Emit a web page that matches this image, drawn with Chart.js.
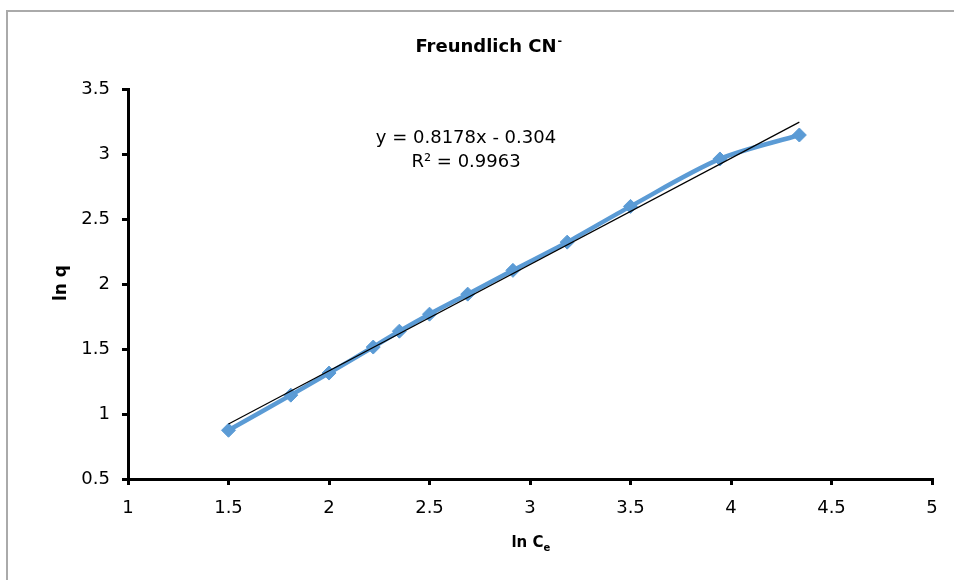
<!DOCTYPE html>
<html>
<head>
<meta charset="utf-8">
<script src="https://cdn.jsdelivr.net/npm/chart.js@4.4.1/dist/chart.umd.min.js"></script>
<style>
    html, body { margin: 0; padding: 0; background: #fff; }
    #box { position: relative; width: 954px; height: 580px; }
</style>
</head>
<body>
<div id="box"><canvas id="grafico-freundlich"></canvas></div>
<script>
// Pontos experimentais (ln Ce, ln q)
const lnCe = [1.50, 1.81, 2.00, 2.22, 2.35, 2.50, 2.69, 2.915, 3.185, 3.50, 3.945, 4.34];
const lnQ = [0.875, 1.145, 1.315, 1.515, 1.637, 1.768, 1.922, 2.105, 2.322, 2.597, 2.962, 3.146];

// Linha de tendência: y = a*x + b
const inclinacao = 0.8178;
const intercepto = -0.304;
const r2 = 0.9963;
const trendX = [1.50, 4.34];

const titulo = 'Freundlich CN';
const fonte = '"DejaVu Sans", sans-serif';

let pontos = [];
for (let i = 0; i < lnCe.length; i++) {
    pontos.push({ x: lnCe[i], y: lnQ[i] });
}
let tendencia = trendX.map(function (x) {
    return { x: x, y: inclinacao * x + intercepto };
});

// Textos desenhados à mão (sobrescrito / subscrito) e moldura
const textos = {
    id: 'textos',
    beforeDraw(chart) {
        const ctx = chart.ctx;
        ctx.save();
        ctx.strokeStyle = '#aaaaaa';
        ctx.lineWidth = 2;
        ctx.beginPath();
        ctx.moveTo(7, 580);
        ctx.lineTo(7, 11);
        ctx.lineTo(954, 11);
        ctx.stroke();
        ctx.restore();
    },
    afterDraw(chart) {
        const ctx = chart.ctx;
        ctx.save();
        ctx.fillStyle = '#000';
        ctx.textBaseline = 'alphabetic';

        // titulo com CN-
        ctx.font = 'bold 18px ' + fonte;
        let w = ctx.measureText(titulo).width;
        let x0 = 486 - w / 2;
        ctx.textAlign = 'left';
        ctx.fillText(titulo, x0, 52);
        ctx.font = 'bold 11px ' + fonte;
        ctx.fillText('-', x0 + w + 1, 44);

        // equacao da reta
        ctx.font = '18px ' + fonte;
        ctx.textAlign = 'center';
        ctx.fillText('y = ' + inclinacao + 'x - ' + Math.abs(intercepto), 466, 143);
        ctx.fillText('R² = ' + r2, 466, 167);

        // titulo eixo x: ln Ce
        ctx.font = 'bold 15px ' + fonte;
        ctx.textAlign = 'left';
        let base = 'ln C';
        let wb = ctx.measureText(base).width;
        let xs = 531 - (wb + 7) / 2;
        ctx.fillText(base, xs, 547);
        ctx.font = 'bold 10px ' + fonte;
        ctx.fillText('e', xs + wb, 551);

        // titulo eixo y: ln q
        ctx.font = 'bold 17px ' + fonte;
        ctx.translate(66, 283);
        ctx.rotate(-Math.PI / 2);
        ctx.textAlign = 'center';
        ctx.fillText('ln q', 0, 0);
        ctx.restore();
    }
};

function rotulo(valor) {
    return String(valor);
}

const config = {
    type: 'scatter',
    data: {
        datasets: [{
            label: 'Tendência',
            data: tendencia,
            showLine: true,
            borderColor: '#000000',
            borderWidth: 1.2,
            pointRadius: 0,
        }, {
            label: 'ln q',
            data: pontos,
            showLine: true,
            tension: 0.3,
            borderColor: '#5b9bd5',
            backgroundColor: '#5b9bd5',
            borderWidth: 4.5,
            pointStyle: 'rectRot',
            pointRadius: 7,
            pointBorderWidth: 1,
            pointBorderColor: '#5b9bd5',
            pointBackgroundColor: '#5b9bd5',
        }]
    },
    options: {
        responsive: false,
        animation: false,
        events: [],
        layout: { padding: { top: 89, right: 22, bottom: 0, left: 0 } },
        plugins: {
            legend: { display: false },
            tooltip: { enabled: false },
        },
        scales: {
            x: {
                type: 'linear',
                min: 1,
                max: 5,
                afterFit: function (scale) { scale.height = 101; },
                border: { color: '#000', width: 3 },
                grid: {
                    drawOnChartArea: false,
                    drawTicks: true,
                    tickLength: 6,
                    color: '#000',
                    lineWidth: 3,
                },
                ticks: {
                    stepSize: 0.5,
                    padding: 13,
                    color: '#000',
                    maxRotation: 0,
                    callback: rotulo,
                    font: { family: fonte, size: 18 },
                },
            },
            y: {
                type: 'linear',
                min: 0.5,
                max: 3.5,
                afterFit: function (scale) { scale.width = 128; },
                border: { color: '#000', width: 3 },
                grid: {
                    drawOnChartArea: false,
                    drawTicks: true,
                    tickLength: 6,
                    color: '#000',
                    lineWidth: 3,
                },
                ticks: {
                    stepSize: 0.5,
                    padding: 12,
                    color: '#000',
                    callback: rotulo,
                    font: { family: fonte, size: 18 },
                },
            }
        }
    },
    plugins: [textos]
};

const canvas = document.getElementById('grafico-freundlich');
canvas.width = 954;
canvas.height = 580;
let myChart = new Chart(canvas, config);
</script>
</body>
</html>
